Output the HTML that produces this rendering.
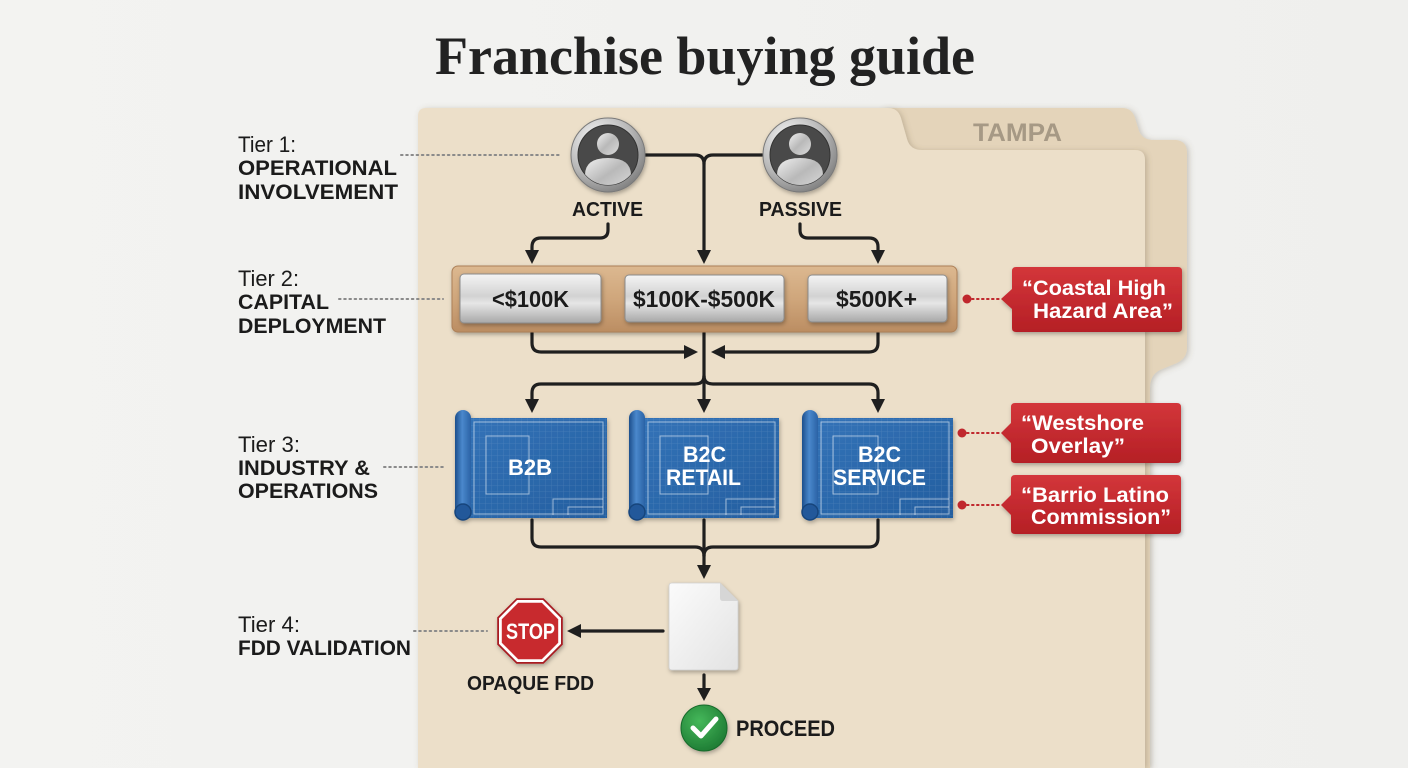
<!DOCTYPE html>
<html>
<head>
<meta charset="utf-8">
<style>
  html,body{margin:0;padding:0;width:1408px;height:768px;overflow:hidden;background:#f1f1ef;}
  svg{display:block;}
  .s{font-family:"Liberation Sans",Arial,sans-serif;}
  .b{font-family:"Liberation Sans",Arial,sans-serif;font-weight:bold;}
</style>
</head>
<body>
<svg width="1408" height="768" viewBox="0 0 1408 768" xmlns="http://www.w3.org/2000/svg">
  <defs>
    <linearGradient id="bg" x1="0" y1="0" x2="1" y2="0">
      <stop offset="0" stop-color="#f3f3f1"/>
      <stop offset="1" stop-color="#efefed"/>
    </linearGradient>
    <linearGradient id="metal" x1="0" y1="0" x2="0" y2="1">
      <stop offset="0" stop-color="#f4f4f4"/>
      <stop offset="0.45" stop-color="#d2d2d2"/>
      <stop offset="0.6" stop-color="#e6e6e6"/>
      <stop offset="1" stop-color="#a8a8a8"/>
    </linearGradient>
    <linearGradient id="wood" x1="0" y1="0" x2="0" y2="1">
      <stop offset="0" stop-color="#dcb890"/>
      <stop offset="0.5" stop-color="#cfa67b"/>
      <stop offset="1" stop-color="#bb8d62"/>
    </linearGradient>
    <linearGradient id="red" x1="0" y1="0" x2="0" y2="1">
      <stop offset="0" stop-color="#d3363a"/>
      <stop offset="1" stop-color="#b51f25"/>
    </linearGradient>
    <linearGradient id="blue" x1="0" y1="0" x2="1" y2="1">
      <stop offset="0" stop-color="#3373b8"/>
      <stop offset="1" stop-color="#245e9f"/>
    </linearGradient>
    <linearGradient id="roll" x1="0" y1="0" x2="1" y2="0">
      <stop offset="0" stop-color="#1d4f8c"/>
      <stop offset="0.45" stop-color="#4a88cc"/>
      <stop offset="1" stop-color="#2a62a5"/>
    </linearGradient>
    <radialGradient id="ring" cx="0.35" cy="0.3" r="0.8">
      <stop offset="0" stop-color="#fafafa"/>
      <stop offset="0.6" stop-color="#b5b5b5"/>
      <stop offset="1" stop-color="#777"/>
    </radialGradient>
    <linearGradient id="person" x1="0" y1="0" x2="1" y2="1">
      <stop offset="0" stop-color="#f0f0f0"/>
      <stop offset="0.5" stop-color="#b9b9b9"/>
      <stop offset="1" stop-color="#dcdcdc"/>
    </linearGradient>
    <radialGradient id="green" cx="0.4" cy="0.35" r="0.7">
      <stop offset="0" stop-color="#45b85a"/>
      <stop offset="1" stop-color="#1d7a33"/>
    </radialGradient>
    <linearGradient id="doc" x1="0" y1="0" x2="1" y2="1">
      <stop offset="0" stop-color="#fbfbfb"/>
      <stop offset="1" stop-color="#e3e3e3"/>
    </linearGradient>
    <pattern id="grid" width="6" height="6" patternUnits="userSpaceOnUse">
      <path d="M6 0V6M0 6H6" stroke="#ffffff" stroke-opacity="0.13" stroke-width="0.8" fill="none"/>
    </pattern>
    <filter id="sh" x="-20%" y="-20%" width="140%" height="150%">
      <feDropShadow dx="1" dy="2" stdDeviation="2" flood-color="#000" flood-opacity="0.3"/>
    </filter>
    <filter id="shf" x="-5%" y="-5%" width="110%" height="110%">
      <feDropShadow dx="2" dy="1" stdDeviation="3" flood-color="#6b5a3e" flood-opacity="0.3"/>
    </filter>
  </defs>

  <rect width="1408" height="768" fill="url(#bg)"/>

  <!-- Title -->
  <text x="435" y="74" font-family="'Liberation Serif',serif" font-weight="bold" font-size="54" fill="#222" textLength="540" lengthAdjust="spacingAndGlyphs">Franchise buying guide</text>

  <!-- Back folder with TAMPA tab -->
  <path filter="url(#shf)" d="M880,768 V116 Q880,108 888,108 H1122 Q1132,108 1135,118 L1139,131 Q1142,139 1152,140 H1176 Q1187,141 1187,153 V348 Q1187,358 1177,363 L1160,370 Q1150,375 1150,388 V768 Z" fill="#e4d4ba"/>
  <text class="b" x="973" y="141" font-size="25" fill="#a69985" textLength="89" lengthAdjust="spacingAndGlyphs">TAMPA</text>

  <!-- Front folder -->
  <path filter="url(#shf)" d="M418,768 V116 Q418,108 426,108 H888 Q898,108 901,118 L907,139 Q910,150 922,150 H1135 Q1145,150 1145,160 V768 Z" fill="#ecdfc9"/>

  <!-- Tier labels -->
  <g fill="#1b1b1b">
    <text class="s" x="238" y="152" font-size="22" textLength="58" lengthAdjust="spacingAndGlyphs">Tier 1:</text>
    <text class="b" x="238" y="175" font-size="21" textLength="159" lengthAdjust="spacingAndGlyphs">OPERATIONAL</text>
    <text class="b" x="238" y="199" font-size="21" textLength="160" lengthAdjust="spacingAndGlyphs">INVOLVEMENT</text>

    <text class="s" x="238" y="286" font-size="22" textLength="61" lengthAdjust="spacingAndGlyphs">Tier 2:</text>
    <text class="b" x="238" y="309" font-size="21" textLength="91" lengthAdjust="spacingAndGlyphs">CAPITAL</text>
    <text class="b" x="238" y="333" font-size="21" textLength="148" lengthAdjust="spacingAndGlyphs">DEPLOYMENT</text>

    <text class="s" x="238" y="452" font-size="22" textLength="62" lengthAdjust="spacingAndGlyphs">Tier 3:</text>
    <text class="b" x="238" y="475" font-size="21" textLength="132" lengthAdjust="spacingAndGlyphs">INDUSTRY &amp;</text>
    <text class="b" x="238" y="498" font-size="21" textLength="140" lengthAdjust="spacingAndGlyphs">OPERATIONS</text>

    <text class="s" x="238" y="632" font-size="22" textLength="62" lengthAdjust="spacingAndGlyphs">Tier 4:</text>
    <text class="b" x="238" y="655" font-size="21" textLength="173" lengthAdjust="spacingAndGlyphs">FDD VALIDATION</text>
  </g>

  <!-- Dotted leaders -->
  <g stroke="#8a8a8a" stroke-width="2" stroke-dasharray="1.6 3.6" stroke-linecap="round" fill="none">
    <path d="M401,155 H562"/>
    <path d="M339,299 H443"/>
    <path d="M384,467 H443"/>
    <path d="M414,631 H487"/>
  </g>

  <!-- Connectors -->
  <g stroke="#1f1f1f" stroke-width="3.2" fill="none" stroke-linecap="round">
    <path d="M645,155 H695 Q704,155 704,164 V252"/>
    <path d="M762,155 H713 Q704,155 704,164"/>
    <path d="M608,224 V230 Q608,238 600,238 H541 Q532,238 532,247 V252"/>
    <path d="M800,224 V230 Q800,238 808,238 H869 Q878,238 878,247 V252"/>
    <path d="M532,333 V343 Q532,352 541,352 H686"/>
    <path d="M878,333 V343 Q878,352 869,352 H723"/>
    <path d="M704,333 V401"/>
    <path d="M704,376 Q704,384 695,384 H541 Q532,384 532,393 V401"/>
    <path d="M704,376 Q704,384 713,384 H869 Q878,384 878,393 V401"/>
    <path d="M532,520 V538 Q532,547 541,547 H695 Q704,547 704,556"/>
    <path d="M878,520 V538 Q878,547 869,547 H713 Q704,547 704,556"/>
    <path d="M704,520 V567"/>
    <path d="M663,631 H579"/>
    <path d="M704,675 V690"/>
  </g>
  <g fill="#1f1f1f">
    <polygon points="697,250 711,250 704,264"/>
    <polygon points="525,250 539,250 532,264"/>
    <polygon points="871,250 885,250 878,264"/>
    <polygon points="684,345 684,359 698,352"/>
    <polygon points="725,345 725,359 711,352"/>
    <polygon points="525,399 539,399 532,413"/>
    <polygon points="697,399 711,399 704,413"/>
    <polygon points="871,399 885,399 878,413"/>
    <polygon points="697,565 711,565 704,579"/>
    <polygon points="581,624 581,638 567,631"/>
    <polygon points="697,688 711,688 704,701"/>
  </g>

  <!-- Avatars -->
  <g filter="url(#sh)">
    <circle cx="608" cy="155" r="37" fill="url(#ring)" stroke="#7a7a7a" stroke-width="1"/>
    <circle cx="608" cy="155" r="30" fill="#4a4a48" stroke="#333" stroke-width="1"/>
    <clipPath id="c1"><circle cx="608" cy="155" r="30"/></clipPath>
    <g clip-path="url(#c1)">
      <circle cx="608" cy="144" r="11" fill="url(#person)"/>
      <path d="M585,190 V175 Q585,158 608,158 Q631,158 631,175 V190 Z" fill="url(#person)"/>
    </g>
  </g>
  <g filter="url(#sh)">
    <circle cx="800" cy="155" r="37" fill="url(#ring)" stroke="#7a7a7a" stroke-width="1"/>
    <circle cx="800" cy="155" r="30" fill="#4a4a48" stroke="#333" stroke-width="1"/>
    <clipPath id="c2"><circle cx="800" cy="155" r="30"/></clipPath>
    <g clip-path="url(#c2)">
      <circle cx="800" cy="144" r="11" fill="url(#person)"/>
      <path d="M777,190 V175 Q777,158 800,158 Q823,158 823,175 V190 Z" fill="url(#person)"/>
    </g>
  </g>
  <text class="b" x="572" y="216" font-size="20" fill="#1b1b1b" textLength="71" lengthAdjust="spacingAndGlyphs">ACTIVE</text>
  <text class="b" x="759" y="216" font-size="20" fill="#1b1b1b" textLength="83" lengthAdjust="spacingAndGlyphs">PASSIVE</text>

  <!-- Wooden plank -->
  <rect x="452" y="266" width="505" height="66" rx="6" fill="url(#wood)" stroke="#ad8058" stroke-width="1" filter="url(#sh)"/>
  <g filter="url(#sh)">
    <rect x="460" y="274" width="141" height="49" rx="4" fill="url(#metal)" stroke="#8c8c8c" stroke-width="1"/>
    <rect x="625" y="275" width="159" height="47" rx="4" fill="url(#metal)" stroke="#8c8c8c" stroke-width="1"/>
    <rect x="808" y="275" width="139" height="47" rx="4" fill="url(#metal)" stroke="#8c8c8c" stroke-width="1"/>
  </g>
  <g fill="#1b1b1b">
    <text class="b" x="492" y="307" font-size="23" textLength="77" lengthAdjust="spacingAndGlyphs">&lt;$100K</text>
    <text class="b" x="633" y="307" font-size="23" textLength="142" lengthAdjust="spacingAndGlyphs">$100K-$500K</text>
    <text class="b" x="836" y="307" font-size="23" textLength="81" lengthAdjust="spacingAndGlyphs">$500K+</text>
  </g>

  <!-- Blueprints -->
  <g filter="url(#sh)">
    <rect x="467" y="418" width="140" height="100" fill="url(#blue)"/>
    <rect x="467" y="418" width="140" height="100" fill="url(#grid)"/>
    <rect x="455" y="410" width="16" height="106" rx="8" fill="url(#roll)"/>
    <circle cx="463" cy="512" r="8" fill="#24589a" stroke="#17457c" stroke-width="1.5"/>
  </g>
  <g filter="url(#sh)">
    <rect x="641" y="418" width="138" height="100" fill="url(#blue)"/>
    <rect x="641" y="418" width="138" height="100" fill="url(#grid)"/>
    <rect x="629" y="410" width="16" height="106" rx="8" fill="url(#roll)"/>
    <circle cx="637" cy="512" r="8" fill="#24589a" stroke="#17457c" stroke-width="1.5"/>
  </g>
  <g filter="url(#sh)">
    <rect x="814" y="418" width="139" height="100" fill="url(#blue)"/>
    <rect x="814" y="418" width="139" height="100" fill="url(#grid)"/>
    <rect x="802" y="410" width="16" height="106" rx="8" fill="url(#roll)"/>
    <circle cx="810" cy="512" r="8" fill="#24589a" stroke="#17457c" stroke-width="1.5"/>
  </g>
  <g stroke="#ffffff" stroke-opacity="0.55" stroke-width="1" fill="none">
    <rect x="474" y="422" width="129" height="92"/>
    <rect x="486" y="436" width="43" height="58"/>
    <path d="M553,515 V499 H603 M568,515 V507 H603"/>
    <rect x="648" y="422" width="127" height="92"/>
    <rect x="660" y="436" width="48" height="58"/>
    <path d="M726,515 V499 H775 M741,515 V507 H775"/>
    <rect x="821" y="422" width="128" height="92"/>
    <rect x="833" y="436" width="45" height="58"/>
    <path d="M900,515 V499 H949 M915,515 V507 H949"/>
  </g>
  <g fill="#ffffff">
    <text class="b" x="508" y="475" font-size="22" textLength="44" lengthAdjust="spacingAndGlyphs">B2B</text>
    <text class="b" x="683" y="462" font-size="22" textLength="43" lengthAdjust="spacingAndGlyphs">B2C</text>
    <text class="b" x="666" y="485" font-size="22" textLength="75" lengthAdjust="spacingAndGlyphs">RETAIL</text>
    <text class="b" x="858" y="462" font-size="22" textLength="43" lengthAdjust="spacingAndGlyphs">B2C</text>
    <text class="b" x="833" y="485" font-size="22" textLength="93" lengthAdjust="spacingAndGlyphs">SERVICE</text>
  </g>

  <!-- Red callouts -->
  <g stroke="#c0282d" stroke-width="2" stroke-dasharray="1.6 3.4" stroke-linecap="round">
    <path d="M972,299 H1000"/>
    <path d="M967,433 H1000"/>
    <path d="M967,505 H1000"/>
  </g>
  <g fill="#c0282d">
    <circle cx="967" cy="299" r="4.5"/>
    <circle cx="962" cy="433" r="4.5"/>
    <circle cx="962" cy="505" r="4.5"/>
  </g>
  <g filter="url(#sh)" fill="url(#red)">
    <path d="M1016,267 H1178 Q1182,267 1182,271 V328 Q1182,332 1178,332 H1016 Q1012,332 1012,328 V309 L1001,299 L1012,289 V271 Q1012,267 1016,267 Z"/>
    <path d="M1015,403 H1177 Q1181,403 1181,407 V459 Q1181,463 1177,463 H1015 Q1011,463 1011,459 V443 L1001,433 L1011,423 V407 Q1011,403 1015,403 Z"/>
    <path d="M1015,475 H1177 Q1181,475 1181,479 V530 Q1181,534 1177,534 H1015 Q1011,534 1011,530 V515 L1001,505 L1011,495 V479 Q1011,475 1015,475 Z"/>
  </g>
  <g fill="#ffffff">
    <text class="b" x="1022" y="295" font-size="21" textLength="144" lengthAdjust="spacingAndGlyphs">“Coastal High</text>
    <text class="b" x="1033" y="318" font-size="21" textLength="140" lengthAdjust="spacingAndGlyphs">Hazard Area”</text>
    <text class="b" x="1021" y="430" font-size="21" textLength="123" lengthAdjust="spacingAndGlyphs">“Westshore</text>
    <text class="b" x="1031" y="453" font-size="21" textLength="94" lengthAdjust="spacingAndGlyphs">Overlay”</text>
    <text class="b" x="1021" y="502" font-size="21" textLength="148" lengthAdjust="spacingAndGlyphs">“Barrio Latino</text>
    <text class="b" x="1031" y="524" font-size="21" textLength="140" lengthAdjust="spacingAndGlyphs">Commission”</text>
  </g>

  <!-- Document -->
  <g filter="url(#sh)">
    <path d="M669,586 Q669,583 672,583 H720 L738,601 V667 Q738,670 735,670 H672 Q669,670 669,667 Z" fill="url(#doc)" stroke="#d0d0d0" stroke-width="0.8"/>
    <path d="M720,583 V598 Q720,601 723,601 H738 Z" fill="#d6d6d6"/>
  </g>

  <!-- STOP sign -->
  <g filter="url(#sh)">
    <polygon points="543.6,598.2 562.8,617.4 562.8,644.6 543.6,663.8 516.4,663.8 497.2,644.6 497.2,617.4 516.4,598.2" fill="#a81f24"/>
    <polygon points="542.9,600 561,618.1 561,643.9 542.9,662 517.1,662 499,643.9 499,618.1 517.1,600" fill="#ffffff"/>
    <polygon points="541.8,602.8 558.2,619.2 558.2,642.8 541.8,659.2 518.2,659.2 501.8,642.8 501.8,619.2 518.2,602.8" fill="#c8292e"/>
  </g>
  <text class="b" x="506" y="639" font-size="22" fill="#ffffff" textLength="49" lengthAdjust="spacingAndGlyphs">STOP</text>
  <text class="b" x="467" y="690" font-size="20" fill="#1b1b1b" textLength="127" lengthAdjust="spacingAndGlyphs">OPAQUE FDD</text>

  <!-- Proceed check -->
  <circle cx="704" cy="728" r="23" fill="url(#green)" stroke="#176a2b" stroke-width="1" filter="url(#sh)"/>
  <polyline points="693,728 701,736 716,719" fill="none" stroke="#ffffff" stroke-width="5" stroke-linecap="round" stroke-linejoin="round"/>
  <text class="b" x="736" y="736" font-size="22" fill="#1b1b1b" textLength="99" lengthAdjust="spacingAndGlyphs">PROCEED</text>
</svg>
</body>
</html>
